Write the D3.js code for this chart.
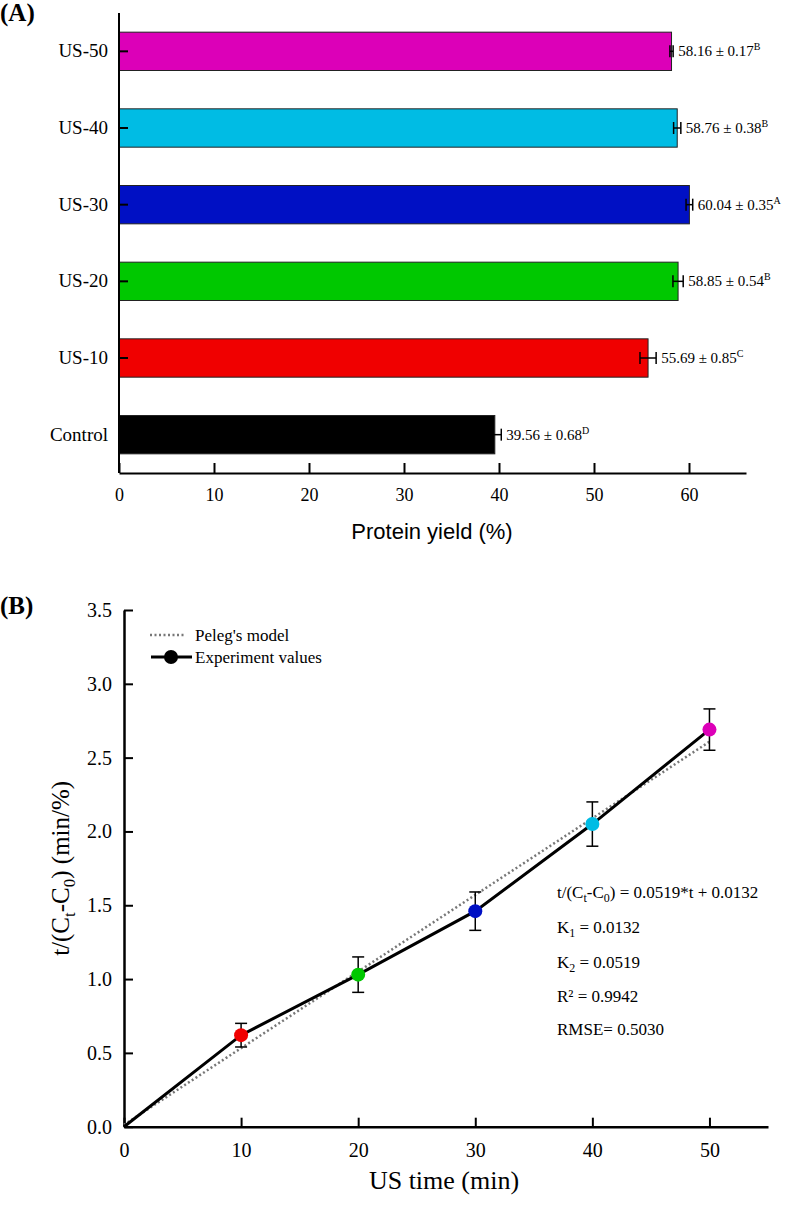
<!DOCTYPE html>
<html>
<head>
<meta charset="utf-8">
<script src="https://cdn.jsdelivr.net/npm/d3@7"></script>
<style>
  body { margin: 0; background: #fff; }
  svg { display: block; }
  .serif { font-family: "Liberation Serif", "Times New Roman", serif; }
</style>
</head>
<body>
<div id="chart"></div>
<script>
// panel A data
var categories = ["US-50", "US-40", "US-30", "US-20", "US-10", "Control"];
var yieldMean  = [58.16, 58.76, 60.04, 58.85, 55.69, 39.56];
var yieldSd    = [0.17, 0.38, 0.35, 0.54, 0.85, 0.68];
var letters    = ["B", "B", "A", "B", "C", "D"];
var barColors  = ["#dc00b8", "#00bce4", "#0010c4", "#00c800", "#f00000", "#000000"];
var yieldTicks = [0, 10, 20, 30, 40, 50, 60];

// panel B data
var usTime     = [0, 10, 20, 30, 40, 50];
var expValues  = [0, 0.62, 1.03, 1.46, 2.05, 2.69];
var expSd      = [0, 0.08, 0.12, 0.13, 0.15, 0.14];
var pointColors = [null, "#f00000", "#00c800", "#0010c4", "#00bce4", "#dc00b8"];
var pelegValues = [0.013, 0.532, 1.051, 1.570, 2.089, 2.608];
var timeTicks  = [0, 10, 20, 30, 40, 50];
var ratioTicks = [0, 0.5, 1.0, 1.5, 2.0, 2.5, 3.0, 3.5];
var fitLines = [
  ["t/(C", {sub: "t"}, "-C", {sub: "0"}, ") = 0.0519*t + 0.0132"],
  ["K", {sub: "1"}, " = 0.0132"],
  ["K", {sub: "2"}, " = 0.0519"],
  ["R² = 0.9942"],
  ["RMSE= 0.5030"]
];

var W = 787, H = 1205;
var svg = d3.select("#chart").append("svg")
    .attr("width", W).attr("height", H)
    .attr("class", "serif");

// text with subscripts: plain strings stay on baseline, {sub} parts drop down
function richText(sel, parts, subSize, shift) {
  var low = false;
  parts.forEach(function(p) {
    if (typeof p === "string") {
      sel.append("tspan").attr("dy", low ? -shift : 0).text(p);
      low = false;
    } else {
      sel.append("tspan").attr("font-size", subSize).attr("dy", low ? 0 : shift).text(p.sub);
      low = true;
    }
  });
}

// ---------- panel A ----------
var xA = d3.scaleLinear().domain([0, 66]).range([119, 746]);
var yA = d3.scaleBand().domain(categories).range([13, 473])
    .paddingInner(0.5).paddingOuter(0.25);

var rows = categories.map(function(c, i) {
  return {cat: c, v: yieldMean[i], sd: yieldSd[i], letter: letters[i], color: barColors[i]};
});

svg.append("text").attr("x", 0).attr("y", 21)
   .attr("font-size", 25).attr("font-weight", "bold").text("(A)");

svg.selectAll("rect.bar").data(rows).enter().append("rect")
   .attr("class", "bar")
   .attr("x", xA(0))
   .attr("y", function(d) { return yA(d.cat); })
   .attr("width", function(d) { return xA(d.v) - xA(0); })
   .attr("height", yA.bandwidth())
   .attr("fill", function(d) { return d.color; })
   .attr("stroke", "#222").attr("stroke-width", 1);

var errA = svg.selectAll("g.errA").data(rows).enter().append("g")
   .attr("class", "errA")
   .attr("stroke", "#000").attr("stroke-width", 1.5);
errA.append("line")
   .attr("x1", function(d) { return xA(d.v - d.sd); })
   .attr("x2", function(d) { return xA(d.v + d.sd); })
   .attr("y1", function(d) { return yA(d.cat) + yA.bandwidth() / 2; })
   .attr("y2", function(d) { return yA(d.cat) + yA.bandwidth() / 2; });
[-1, 1].forEach(function(s) {
  errA.append("line")
     .attr("x1", function(d) { return xA(d.v + s * d.sd); })
     .attr("x2", function(d) { return xA(d.v + s * d.sd); })
     .attr("y1", function(d) { return yA(d.cat) + yA.bandwidth() / 2 - 6; })
     .attr("y2", function(d) { return yA(d.cat) + yA.bandwidth() / 2 + 6; });
});

var labA = svg.selectAll("text.lab").data(rows).enter().append("text")
   .attr("class", "lab")
   .attr("x", function(d) { return xA(d.v + d.sd) + 5; })
   .attr("y", function(d) { return yA(d.cat) + yA.bandwidth() / 2 + 5; })
   .attr("font-size", 15);
labA.append("tspan").text(function(d) { return d.v.toFixed(2) + " ± " + d.sd.toFixed(2); });
labA.append("tspan").attr("font-size", 10).attr("dy", -6)
   .text(function(d) { return d.letter; });

var axA_y = svg.append("g").attr("transform", "translate(" + xA(0) + ",0)")
   .call(d3.axisLeft(yA).tickSizeInner(-9).tickSizeOuter(0).tickPadding(11));
axA_y.select(".domain").attr("d", "M0,13V473");
var axA_x = svg.append("g").attr("transform", "translate(0,473)")
   .call(d3.axisBottom(xA).tickValues(yieldTicks).tickSizeInner(-10).tickSizeOuter(0).tickPadding(15));
[axA_y, axA_x].forEach(function(a) {
  a.attr("font-family", null).attr("font-size", null);
  a.select(".domain").attr("stroke-width", 2);
  a.selectAll(".tick line").attr("stroke-width", 2);
  a.selectAll("text").attr("fill", "#000");
});
axA_y.selectAll("text").attr("font-size", 19);
axA_x.selectAll("text").attr("font-size", 18);

svg.append("text").attr("x", 432).attr("y", 539)
   .attr("text-anchor", "middle")
   .attr("font-family", "'Liberation Sans', Arial, sans-serif")
   .attr("font-size", 22).text("Protein yield (%)");

// ---------- panel B ----------
var xB = d3.scaleLinear().domain([0, 55]).range([124, 768]);
var yB = d3.scaleLinear().domain([0, 3.5]).range([1126.7, 610]);

svg.append("text").attr("x", 0).attr("y", 614)
   .attr("font-size", 25).attr("font-weight", "bold").text("(B)");

var axB_y = svg.append("g").attr("transform", "translate(" + xB(0) + ",0)")
   .call(d3.axisLeft(yB).tickValues(ratioTicks).tickFormat(d3.format(".1f"))
         .tickSizeInner(-9).tickSizeOuter(0).tickPadding(12));
var axB_x = svg.append("g").attr("transform", "translate(0," + yB(0) + ")")
   .call(d3.axisBottom(xB).tickValues(timeTicks).tickSizeInner(-9).tickSizeOuter(0).tickPadding(16));
[axB_y, axB_x].forEach(function(a) {
  a.attr("font-family", null).attr("font-size", null);
  a.select(".domain").attr("stroke-width", 2.5);
  a.selectAll(".tick line").attr("stroke-width", 2);
  a.selectAll("text").attr("font-size", 20).attr("fill", "#000");
});

var pts = usTime.map(function(t, i) {
  return {t: t, v: expValues[i], sd: expSd[i], color: pointColors[i], m: pelegValues[i]};
});

// Peleg's model (dotted)
svg.append("path").datum(pts)
   .attr("fill", "none").attr("stroke", "#777").attr("stroke-width", 2.5)
   .attr("stroke-dasharray", "2,2.5")
   .attr("d", d3.line().x(function(d) { return xB(d.t); }).y(function(d) { return yB(d.m); }));

// experiment line
svg.append("path").datum(pts)
   .attr("fill", "none").attr("stroke", "#000").attr("stroke-width", 3)
   .attr("d", d3.line().x(function(d) { return xB(d.t); }).y(function(d) { return yB(d.v); }));

var withErr = pts.filter(function(d) { return d.sd > 0; });
var errB = svg.selectAll("g.errB").data(withErr).enter().append("g")
   .attr("class", "errB").attr("stroke", "#000").attr("stroke-width", 1.5);
errB.append("line")
   .attr("x1", function(d) { return xB(d.t); }).attr("x2", function(d) { return xB(d.t); })
   .attr("y1", function(d) { return yB(d.v - d.sd); }).attr("y2", function(d) { return yB(d.v + d.sd); });
[-1, 1].forEach(function(s) {
  errB.append("line")
     .attr("x1", function(d) { return xB(d.t) - 6; }).attr("x2", function(d) { return xB(d.t) + 6; })
     .attr("y1", function(d) { return yB(d.v + s * d.sd); }).attr("y2", function(d) { return yB(d.v + s * d.sd); });
});

svg.selectAll("circle.pt").data(withErr).enter().append("circle")
   .attr("class", "pt")
   .attr("cx", function(d) { return xB(d.t); })
   .attr("cy", function(d) { return yB(d.v); })
   .attr("r", 7)
   .attr("fill", function(d) { return d.color; });

// legend
var leg = svg.append("g");
leg.append("line").attr("x1", 150).attr("x2", 185).attr("y1", 635).attr("y2", 635)
   .attr("stroke", "#777").attr("stroke-width", 2.5).attr("stroke-dasharray", "2,2.5");
leg.append("text").attr("x", 195).attr("y", 641).attr("font-size", 17).text("Peleg's model");
leg.append("line").attr("x1", 151).attr("x2", 192).attr("y1", 657).attr("y2", 657)
   .attr("stroke", "#000").attr("stroke-width", 3);
leg.append("circle").attr("cx", 171).attr("cy", 657).attr("r", 7).attr("fill", "#000");
leg.append("text").attr("x", 195).attr("y", 663).attr("font-size", 17).text("Experiment values");

// fit text
var fitY = [898, 933, 968, 1002, 1035];
fitLines.forEach(function(parts, i) {
  var t = svg.append("text").attr("x", 557).attr("y", fitY[i]).attr("font-size", 17);
  richText(t, parts, 12, 4);
});

// axis titles
var yl = svg.append("text")
   .attr("transform", "translate(69," + ((yB(0) + yB(3.5)) / 2) + ") rotate(-90)")
   .attr("text-anchor", "middle").attr("font-size", 25);
richText(yl, ["t/(C", {sub: "t"}, "-C", {sub: "0"}, ") (min/%)"], 17, 6);

svg.append("text").attr("x", 444).attr("y", 1189)
   .attr("text-anchor", "middle").attr("font-size", 26).text("US time (min)");
</script>
</body>
</html>
